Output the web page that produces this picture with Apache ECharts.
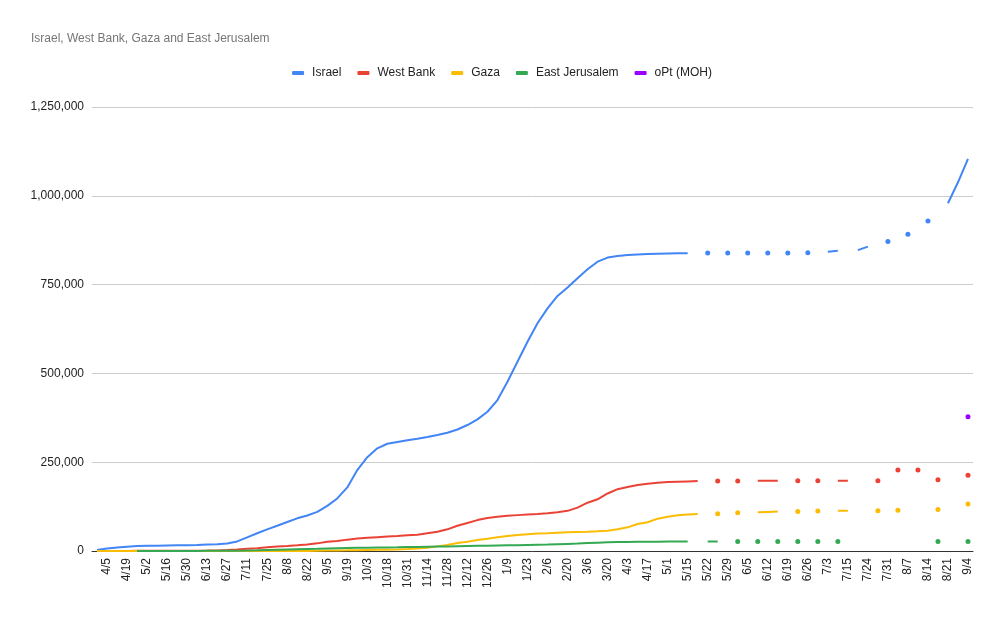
<!DOCTYPE html>
<html>
<head>
<meta charset="utf-8">
<script src="https://cdn.jsdelivr.net/npm/echarts@6/dist/echarts.min.js"></script>
<style>
html,body{margin:0;padding:0;background:#fff;}
#chart{width:1004px;height:620px;}
</style>
</head>
<body>
<div id="chart"></div>
<script>
var categories = [
"3/29","4/5","4/12","4/19","4/26","5/2","5/9","5/16","5/23","5/30",
"6/6","6/13","6/20","6/27","7/4","7/11","7/18","7/25","8/1","8/8",
"8/15","8/22","8/29","9/5","9/12","9/19","9/26","10/3","10/10","10/18",
"10/24","10/31","11/7","11/14","11/21","11/28","12/5","12/12","12/19","12/26",
"1/2","1/9","1/16","1/23","1/30","2/6","2/13","2/20","2/27","3/6",
"3/13","3/20","3/27","4/3","4/10","4/17","4/24","5/1","5/8","5/15",
"5/18","5/22","5/25","5/29","6/1","6/5","6/8","6/12","6/15","6/19",
"6/22","6/26","6/29","7/3","7/10","7/15","7/20","7/24","7/27","7/31",
"8/3","8/7","8/10","8/14","8/17","8/21","8/28","9/4"
];

var israel = [
3000,7000,10000,12000,14000,14500,15000,15500,16000,16500,
17000,18000,19000,21000,27000,38500,50000,61000,71000,81600,
92000,100000,110000,127000,148000,179000,228000,264000,289000,302000,
307000,311600,316000,321000,326600,333000,342000,354700,370700,392000,
425000,476600,533000,589000,641000,683000,718000,742000,768000,793000,
814500,826000,830500,833000,835000,836000,837000,837500,838000,838500,
null,839000,null,839000,null,839000,null,839000,null,839000,
null,840000,null,842600,845000,null,847000,857000,null,871000,
null,892000,null,929000,null,979000,1038000,1104000
];

var westBank = [
200,250,300,350,400,450,500,600,700,800,
1000,1300,1700,2500,4000,6000,8000,10500,12500,14000,
16000,18500,21500,26000,28000,32000,35000,37000,39000,41000,
42000,44000,46000,50000,54000,61000,71000,79000,87000,93000,
96600,99000,101000,103000,104000,106000,109000,113000,122000,136000,
145500,162000,174000,180000,186000,189000,192000,194000,195000,196000,
197000,null,197000,null,197000,null,198000,198000,198000,null,
198000,null,198000,null,198000,198000,null,null,198000,null,
228000,null,228000,null,200700,null,null,213000
];

var gaza = [
10,13,13,17,20,20,40,60,70,72,
72,72,72,72,72,72,75,78,80,80,
100,200,700,1200,1500,1800,2300,2800,3300,3800,
4500,5500,7000,9000,13000,17000,22500,26000,31000,34600,
38500,42000,45000,47000,49000,50000,51500,52600,53500,54300,
55500,57000,61000,66600,76000,81000,91000,96600,100500,103000,
104000,null,105000,null,108000,null,109000,110000,111000,null,
111000,null,112600,null,113500,113500,null,null,113500,null,
114500,null,null,null,117000,null,null,132000
];

var eastJerusalem = [
null,null,null,null,50,100,150,200,250,300,
350,400,450,500,1000,1500,2200,3000,3800,4500,
5200,5800,6400,7200,8000,8600,9000,9400,9800,10200,
10500,11000,11500,12000,12500,13000,13500,14000,14500,15000,
15500,16000,16500,17000,17500,18000,19000,20000,21000,22500,
23500,24500,25000,25500,25800,26000,26200,26400,26500,26600,
null,27000,27000,null,27000,null,27000,null,27000,null,
27000,null,27000,null,27000,null,null,null,null,null,
null,null,null,null,27000,null,null,27000
];

var optMoh = [];
for (var k = 0; k < 87; k++) optMoh.push(null);
optMoh.push(378000);

var yTicks = [0, 250000, 500000, 750000, 1000000, 1250000];

var names = ["Israel", "West Bank", "Gaza", "East Jerusalem", "oPt (MOH)"];
var colors = ["#4285f4", "#ea4335", "#fbbc04", "#34a853", "#9900ff"];
var seriesData = [israel, westBank, gaza, eastJerusalem, optMoh];

function isoSize(arr) {
  return function (v, p) {
    var i = p.dataIndex;
    var prev = i > 0 ? arr[i - 1] : null;
    var next = i < arr.length - 1 ? arr[i + 1] : null;
    return (prev == null && next == null) ? 5 : 0;
  };
}

function fmt(v) {
  return String(v).replace(/\B(?=(\d{3})+(?!\d))/g, ",");
}

var FONT = "Arial, 'Liberation Sans', sans-serif";

var chart = echarts.init(document.getElementById('chart'), null, {renderer: 'canvas'});
chart.setOption({
  animation: false,
  color: colors,
  textStyle: {fontFamily: FONT},
  title: {
    text: "Israel, West Bank, Gaza and East Jerusalem",
    left: 26, top: 28,
    textStyle: {fontSize: 12, fontWeight: 'normal', color: '#757575', fontFamily: FONT}
  },
  legend: {
    top: 62,
    left: 'center',
    icon: 'roundRect',
    itemWidth: 12,
    itemHeight: 4,
    itemGap: 16,
    textStyle: {fontSize: 12, color: '#222', fontFamily: FONT, padding: [0, 0, 0, 3]},
    data: names
  },
  grid: {left: 92, right: 31, top: 107, bottom: 69, containLabel: false},
  xAxis: {
    type: 'category',
    data: categories,
    boundaryGap: true,
    axisTick: {show: false},
    axisLine: {lineStyle: {color: '#333', width: 1}},
    axisLabel: {
      rotate: 90,
      fontSize: 12,
      color: '#222',
      fontFamily: FONT,
      margin: 7,
      interval: function (i) { return i % 2 === 1; }
    },
    splitLine: {show: false}
  },
  yAxis: {
    type: 'value',
    min: yTicks[0],
    max: yTicks[yTicks.length - 1],
    interval: 250000,
    axisLine: {show: false},
    axisTick: {show: false},
    axisLabel: {fontSize: 12, color: '#222', fontFamily: FONT, margin: 8, formatter: fmt},
    splitLine: {lineStyle: {color: '#cccccc', width: 1}}
  },
  series: seriesData.map(function (arr, idx) {
    return {
      name: names[idx],
      type: 'line',
      data: arr,
      connectNulls: false,
      showSymbol: true,
      showAllSymbol: true,
      symbol: 'circle',
      symbolSize: isoSize(arr),
      lineStyle: {width: 2, color: colors[idx]},
      itemStyle: {color: colors[idx]},
      emphasis: {disabled: true}
    };
  })
});
</script>
</body>
</html>
